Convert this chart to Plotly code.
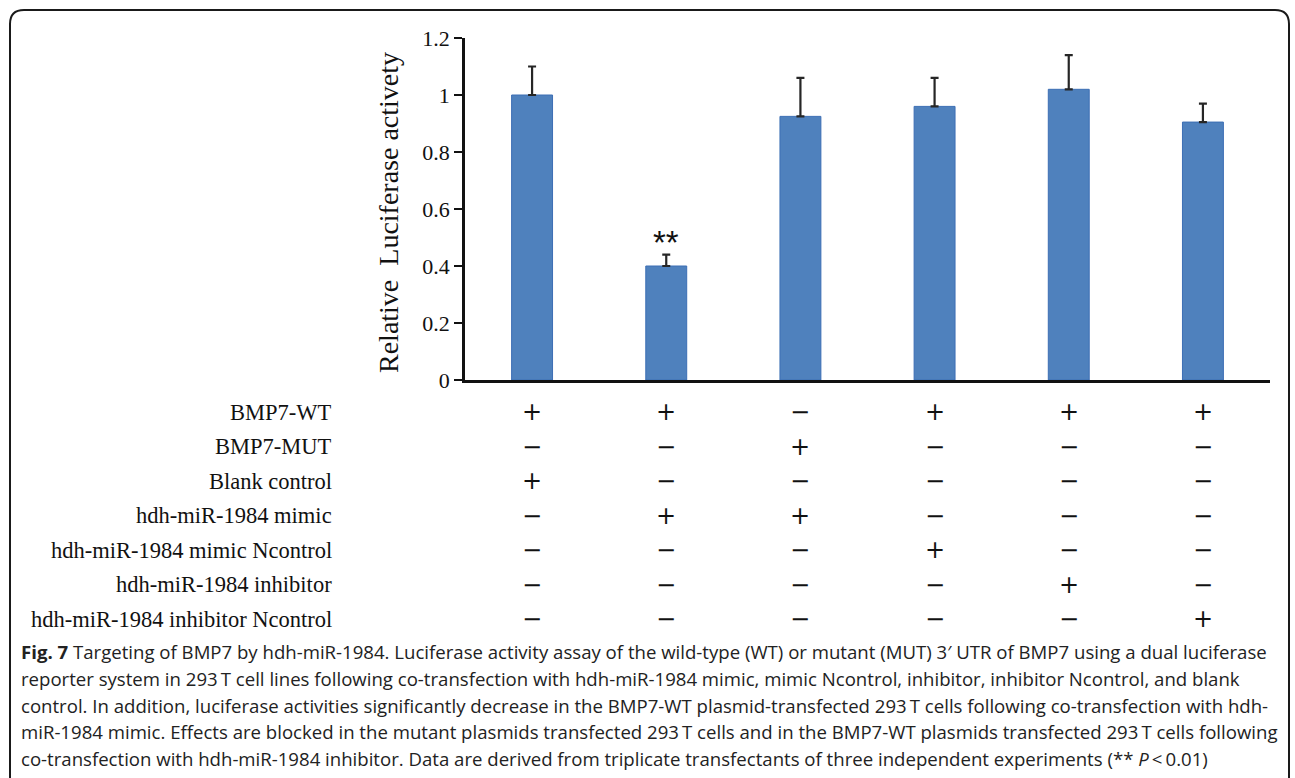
import plotly.graph_objects as go

# ---- data -------------------------------------------------------------
groups = ["G1", "G2", "G3", "G4", "G5", "G6"]
activity = [1.00, 0.40, 0.925, 0.96, 1.02, 0.905]
activity_sd = [0.10, 0.04, 0.135, 0.10, 0.12, 0.065]
significance = ["", "**", "", "", "", ""]

y_ticks = [0, 0.2, 0.4, 0.6, 0.8, 1.0, 1.2]
y_tick_labels = ["0", "0.2", "0.4", "0.6", "0.8", "1", "1.2"]

treatments = [
    "BMP7-WT",
    "BMP7-MUT",
    "Blank control",
    "hdh-miR-1984 mimic",
    "hdh-miR-1984 mimic Ncontrol",
    "hdh-miR-1984 inhibitor",
    "hdh-miR-1984 inhibitor Ncontrol",
]
# one row per treatment, one column per bar (1 = present, 0 = absent)
design = [
    [1, 1, 0, 1, 1, 1],
    [0, 0, 1, 0, 0, 0],
    [1, 0, 0, 0, 0, 0],
    [0, 1, 1, 0, 0, 0],
    [0, 0, 0, 1, 0, 0],
    [0, 0, 0, 0, 1, 0],
    [0, 0, 0, 0, 0, 1],
]

caption_lines = [
    "<b>Fig. 7</b> Targeting of BMP7 by hdh-miR-1984. Luciferase activity assay of the wild-type (WT) or mutant (MUT) 3\u2032 UTR of BMP7 using a dual luciferase",
    "reporter system in 293\u2009T cell lines following co-transfection with hdh-miR-1984 mimic, mimic Ncontrol, inhibitor, inhibitor Ncontrol, and blank",
    "control. In addition, luciferase activities significantly decrease in the BMP7-WT plasmid-transfected 293\u2009T cells following co-transfection with hdh-",
    "miR-1984 mimic. Effects are blocked in the mutant plasmids transfected 293\u2009T cells and in the BMP7-WT plasmids transfected 293\u2009T cells following",
    "co-transfection with hdh-miR-1984 inhibitor. Data are derived from triplicate transfectants of three independent experiments (** <i>P</i>\u2009<\u20090.01)",
]

# ---- layout geometry (pixels) -----------------------------------------
W, H = 1295, 778
PLOT_L, PLOT_R, PLOT_T, PLOT_B = 465, 1270, 38, 380


def px_x(px):
    return (px - PLOT_L) / (PLOT_R - PLOT_L)


def px_y(py):
    return (PLOT_B - py) / (PLOT_B - PLOT_T)


SERIF = "Liberation Serif, Times New Roman, serif"
SANS = "Open Sans, Noto Sans, sans-serif"
SYMBOL = "DejaVu Sans, sans-serif"

fig = go.Figure()
fig.add_trace(
    go.Bar(
        x=groups,
        y=activity,
        width=0.305,
        marker=dict(color="#4F81BD", line=dict(color="#3C6EB4", width=1)),
        error_y=dict(
            type="data",
            symmetric=False,
            array=activity_sd,
            arrayminus=[0] * len(activity_sd),
            color="#262626",
            thickness=2.2,
            width=4,
        ),
        hoverinfo="skip",
    )
)

annotations = []

# significance marks above the error bars
for g, v, e, s in zip(groups, activity, activity_sd, significance):
    if s:
        annotations.append(
            dict(
                x=g, y=v + e, xref="x", yref="y", text=s, showarrow=False,
                yanchor="bottom", yshift=-8,
                font=dict(family="Liberation Sans, Arial, sans-serif", size=33, color="#111"),
            )
        )

# y-axis title
annotations.append(
    dict(
        x=px_x(388), y=px_y(213), xref="paper", yref="paper",
        xanchor="center", yanchor="middle",
        text="Relative \u00a0Luciferase activety", textangle=-90, showarrow=False,
        font=dict(family=SERIF, size=28, color="#111"),
    )
)

# treatment table below the axis
row_y = [412, 446.5, 481, 515.5, 550, 584.5, 619]
for name, flags, ry in zip(treatments, design, row_y):
    annotations.append(
        dict(
            x=px_x(334), y=px_y(ry), xref="paper", yref="paper",
            text=name, showarrow=False, xanchor="right", yanchor="middle",
            font=dict(family=SERIF, size=22.5, color="#111"),
        )
    )
    for g, f in zip(groups, flags):
        annotations.append(
            dict(
                x=g, y=px_y(ry), xref="x", yref="paper",
                text="+" if f else "\u2212", showarrow=False,
                xanchor="center", yanchor="middle",
                font=dict(family=SYMBOL, size=24, color="#111"),
            )
        )

# figure caption
cap_y = [651, 678, 705, 731.5, 758]
for line, cy in zip(caption_lines, cap_y):
    annotations.append(
        dict(
            x=px_x(19), y=px_y(cy), xref="paper", yref="paper",
            text=line, showarrow=False, xanchor="left", yanchor="middle",
            font=dict(family=SANS, size=18.6, color="#222"),
        )
    )

# rounded frame around the whole figure (open at the bottom edge)
x0, x1, y0, y1 = px_x(10), px_x(1289), px_y(10), px_y(790)
rx = 14 / (PLOT_R - PLOT_L)
ry_ = 14 / (PLOT_B - PLOT_T)
frame_path = (
    f"M {x0} {y1} L {x0} {y0 - ry_} Q {x0} {y0} {x0 + rx} {y0} "
    f"L {x1 - rx} {y0} Q {x1} {y0} {x1} {y0 - ry_} L {x1} {y1}"
)

fig.update_layout(
    width=W,
    height=H,
    margin=dict(l=PLOT_L, r=W - PLOT_R, t=PLOT_T, b=H - PLOT_B, pad=0),
    paper_bgcolor="white",
    plot_bgcolor="white",
    showlegend=False,
    annotations=annotations,
    shapes=[
        dict(type="path", path=frame_path, xref="paper", yref="paper",
             line=dict(color="#1a1a1a", width=2)),
    ],
    xaxis=dict(
        range=[-0.5, 5.5],
        showticklabels=False,
        ticks="",
        showgrid=False,
        zeroline=False,
        showline=True,
        linecolor="#111",
        linewidth=2.5,
        fixedrange=True,
    ),
    yaxis=dict(
        range=[0, 1.2],
        tickvals=y_ticks,
        ticktext=y_tick_labels,
        ticks="outside",
        ticklen=8,
        tickwidth=2,
        tickcolor="#111",
        showgrid=False,
        zeroline=False,
        showline=True,
        linecolor="#111",
        linewidth=2.5,
        tickfont=dict(family=SERIF, size=22, color="#111"),
        fixedrange=True,
    ),
)

fig.write_html("out.html")
